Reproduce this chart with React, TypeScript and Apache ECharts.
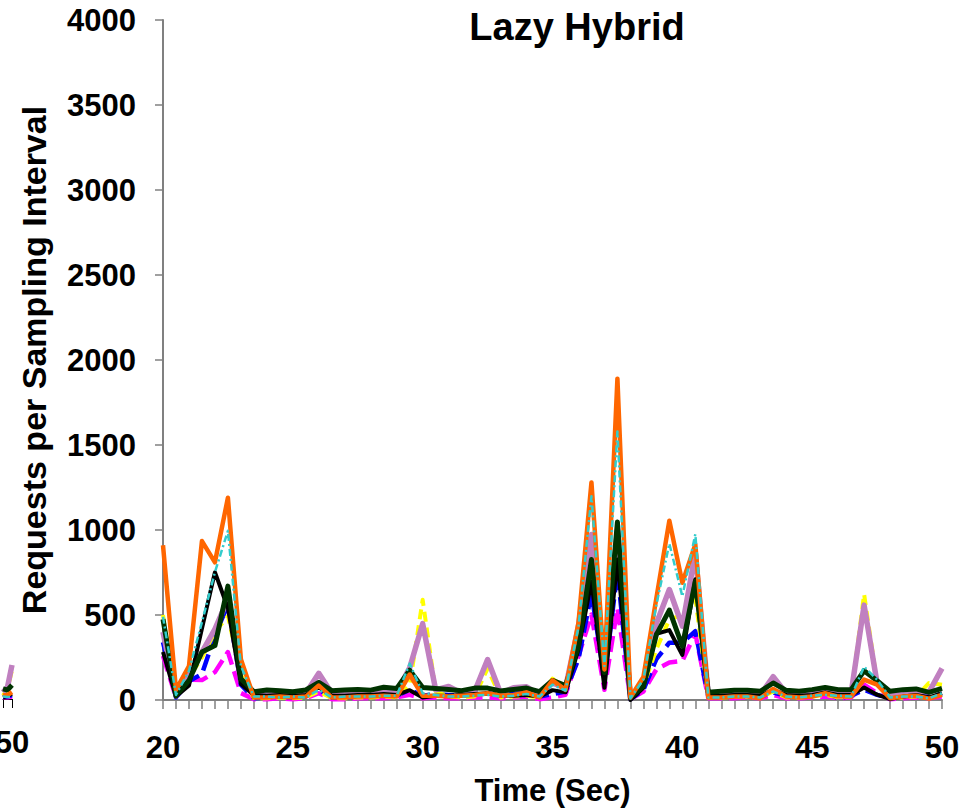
import React, { useEffect, useRef } from "react";
import * as echarts from "echarts";

// Sampling instants: every 0.5 s from 20 s to 50 s
const TIME: number[] = [];
for (let i = 0; i <= 60; i++) TIME.push(20 + i * 0.5);

// Requests per sampling interval, one array per client series
const magenta = [260, 15, 120, 117, 164, 282, 41, 5, 5, 10, 5, 10, 40, 5, 5, 10, 10, 10, 15, 30, 10, 15, 10, 10, 15, 15, 10, 15, 20, 5, 15, 30, 258, 503, 60, 542, 5, 50, 180, 220, 230, 390, 10, 10, 10, 15, 10, 30, 10, 10, 15, 20, 10, 15, 90, 40, 5, 10, 15, 10, 20];
const blue = [340, 15, 110, 153, 380, 560, 90, 10, 15, 20, 15, 20, 60, 15, 15, 20, 25, 30, 25, 60, 25, 35, 30, 25, 35, 40, 30, 35, 45, 20, 35, 50, 240, 630, 120, 760, 5, 60, 240, 337, 337, 405, 20, 20, 25, 25, 20, 45, 25, 20, 30, 45, 10, 25, 60, 30, 10, 20, 30, 20, 35];
const yellow = [500, 20, 130, 250, 400, 493, 150, 10, 10, 15, 10, 15, 50, 10, 10, 15, 15, 20, 15, 87, 590, 50, 20, 15, 20, 185, 15, 20, 25, 15, 126, 70, 317, 750, 120, 900, 10, 80, 298, 474, 500, 600, 15, 15, 20, 20, 15, 50, 15, 15, 20, 30, 15, 20, 623, 100, 10, 15, 20, 100, 90];
const purple = [400, 25, 143, 282, 417, 593, 110, 30, 35, 40, 35, 40, 157, 40, 35, 40, 40, 50, 45, 190, 449, 60, 80, 40, 50, 238, 40, 72, 78, 30, 100, 70, 435, 973, 150, 1000, 10, 100, 450, 650, 435, 865, 30, 30, 35, 40, 30, 137, 40, 35, 45, 60, 40, 40, 558, 100, 40, 45, 50, 47, 186];
const black = [282, 20, 85, 420, 752, 540, 94, 30, 25, 30, 25, 30, 75, 25, 25, 30, 30, 35, 30, 58, 15, 25, 25, 30, 35, 40, 25, 25, 30, 20, 58, 45, 298, 699, 72, 826, 0, 72, 390, 411, 265, 710, 23, 25, 30, 30, 25, 60, 30, 25, 30, 45, 30, 30, 74, 31, 5, 20, 30, 15, 40];
const darkGreen = [475, 25, 115, 282, 320, 670, 125, 49, 59, 55, 49, 59, 104, 55, 59, 62, 58, 75, 68, 175, 73, 68, 62, 55, 70, 70, 53, 62, 70, 49, 115, 85, 317, 826, 160, 1047, 14, 82, 385, 529, 317, 699, 45, 51, 57, 57, 51, 100, 57, 51, 61, 74, 61, 61, 172, 113, 51, 61, 65, 45, 68];
const orange = [910, 60, 200, 935, 810, 1190, 240, 15, 15, 20, 15, 20, 85, 15, 15, 20, 20, 25, 20, 150, 25, 25, 20, 25, 30, 40, 25, 30, 45, 15, 115, 60, 455, 1280, 180, 1890, 15, 135, 600, 1055, 690, 915, 15, 15, 20, 20, 10, 65, 20, 15, 20, 40, 20, 20, 120, 90, 10, 20, 25, 8, 30];
const cyan = [490, 30, 172, 458, 752, 995, 200, 20, 20, 15, 20, 15, 60, 15, 20, 20, 20, 25, 25, 214, 40, 30, 20, 20, 25, 30, 20, 25, 35, 20, 90, 55, 430, 1198, 200, 1580, 10, 120, 560, 920, 610, 975, 15, 15, 20, 20, 15, 50, 20, 15, 25, 30, 25, 20, 196, 120, 15, 20, 20, 10, 40];

// Tail of the neighbouring panel (last second of its run)
const SIDE_TIME = [49, 49.5, 50];
const sideMagenta = [10, 10, 15];
const sideBlue = [15, 15, 23];
const sideYellow = [20, 60, 170];
const sidePurple = [40, 70, 200];
const sideBlack = [10, 20, 30];
const sideDarkGreen = [60, 53, 82];
const sideOrange = [20, 23, 41];
const sideCyan = [15, 12, 12];

const TITLE = "Lazy Hybrid";
const X_NAME = "Time (Sec)";
const Y_NAME = "Requests per Sampling Interval";

const FONT = "'Liberation Sans', Arial, Helvetica, sans-serif";
const AXIS_GREY = "#808080";

type Style = { color: string; width: number; dash?: number[] | "solid" };

const STYLES: { key: string; main: number[]; side: number[]; style: Style }[] = [
  { key: "magenta", main: magenta, side: sideMagenta, style: { color: "#FF00FF", width: 4.5, dash: [16, 7] } },
  { key: "blue", main: blue, side: sideBlue, style: { color: "#0000FF", width: 4.5, dash: [17, 7] } },
  { key: "yellow", main: yellow, side: sideYellow, style: { color: "#FFFF00", width: 4, dash: [10, 6] } },
  { key: "purple", main: purple, side: sidePurple, style: { color: "#C080C0", width: 5.5, dash: "solid" } },
  { key: "black", main: black, side: sideBlack, style: { color: "#000000", width: 4, dash: "solid" } },
  { key: "darkGreen", main: darkGreen, side: sideDarkGreen, style: { color: "#003300", width: 5, dash: "solid" } },
  { key: "orange", main: orange, side: sideOrange, style: { color: "#FF6600", width: 4.5, dash: "solid" } },
  { key: "cyan", main: cyan, side: sideCyan, style: { color: "#33CCCC", width: 2.5, dash: [7, 3, 2, 3] } },
];

const pairs = (xs: number[], ys: number[]) => xs.map((x, i) => [x, ys[i]]);

export default function App() {
  const ref = useRef<HTMLDivElement>(null);

  useEffect(() => {
    if (!ref.current) return;
    const chart = echarts.init(ref.current, undefined, { renderer: "svg" });

    const labelStyle = { fontFamily: FONT, fontWeight: "bold" as const, color: "#000000" };

    const series: any[] = [];
    STYLES.forEach((s) => {
      series.push({
        name: s.key,
        type: "line",
        xAxisIndex: 0,
        yAxisIndex: 0,
        data: pairs(TIME, s.main),
        showSymbol: false,
        symbol: "none",
        lineStyle: { color: s.style.color, width: s.style.width, type: s.style.dash, cap: "butt", join: "round" },
        z: 2,
      });
      series.push({
        name: s.key + "-side",
        type: "line",
        xAxisIndex: 1,
        yAxisIndex: 1,
        data: pairs(SIDE_TIME, s.side),
        showSymbol: false,
        symbol: "none",
        lineStyle: { color: s.style.color, width: s.style.width, type: s.style.dash, cap: "butt" },
        z: 2,
      });
    });

    chart.setOption({
      animation: false,
      backgroundColor: "#ffffff",
      grid: [
        { left: 163, right: 23, top: 20, bottom: 110, containLabel: false },
        { left: -14, width: 26, top: 20, bottom: 112, containLabel: false },
      ],
      graphic: [
        {
          type: "text",
          x: 577,
          y: 27,
          style: {
            text: TITLE,
            font: `bold 38px ${FONT}`,
            fill: "#000000",
            textAlign: "center",
            textVerticalAlign: "middle",
          },
        },
      ],
      xAxis: [
        {
          type: "value",
          gridIndex: 0,
          min: 20,
          max: 50,
          interval: 5,
          axisLine: { show: true, onZero: false, lineStyle: { color: AXIS_GREY, width: 2 } },
          axisTick: { show: true, inside: false, length: 9, lineStyle: { color: AXIS_GREY, width: 1.5 } },
          minorTick: { show: true, splitNumber: 10, length: 9, lineStyle: { color: AXIS_GREY, width: 1.5 } },
          splitLine: { show: false },
          minorSplitLine: { show: false },
          axisLabel: { ...labelStyle, fontSize: 31, margin: 32, formatter: (v: number) => String(v) },
          name: X_NAME,
          nameLocation: "middle",
          nameGap: 75,
          nameTextStyle: { ...labelStyle, fontSize: 31 },
        },
        {
          type: "value",
          gridIndex: 1,
          min: 49,
          max: 50,
          interval: 1,
          axisLine: { show: true, onZero: false, lineStyle: { color: "#000000", width: 1 } },
          axisTick: { show: true, inside: false, length: 9, lineStyle: { color: "#000000", width: 1 } },
          splitLine: { show: false },
          axisLabel: {
            ...labelStyle,
            fontSize: 31,
            margin: 28,
            formatter: (v: number) => (v === 50 ? "50" : ""),
          },
        },
      ],
      yAxis: [
        {
          type: "value",
          gridIndex: 0,
          min: 0,
          max: 4000,
          interval: 500,
          axisLine: { show: true, onZero: false, lineStyle: { color: AXIS_GREY, width: 2 } },
          axisTick: { show: true, inside: false, length: 8, lineStyle: { color: AXIS_GREY, width: 1.5 } },
          splitLine: { show: false },
          axisLabel: { ...labelStyle, fontSize: 31, margin: 27, formatter: (v: number) => String(v) },
          name: Y_NAME,
          nameLocation: "middle",
          nameGap: 112,
          nameRotate: 90,
          nameTextStyle: { ...labelStyle, fontSize: 34 },
        },
        {
          type: "value",
          gridIndex: 1,
          min: 0,
          max: 4000,
          interval: 500,
          axisLine: { show: false },
          axisTick: { show: false },
          axisLabel: { show: false },
          splitLine: { show: false },
        },
      ],
      series,
    });

    return () => chart.dispose();
  }, []);

  return (
    <div
      ref={ref}
      style={{ position: "fixed", left: 0, top: 0, width: 965, height: 811, background: "#ffffff" }}
    />
  );
}
